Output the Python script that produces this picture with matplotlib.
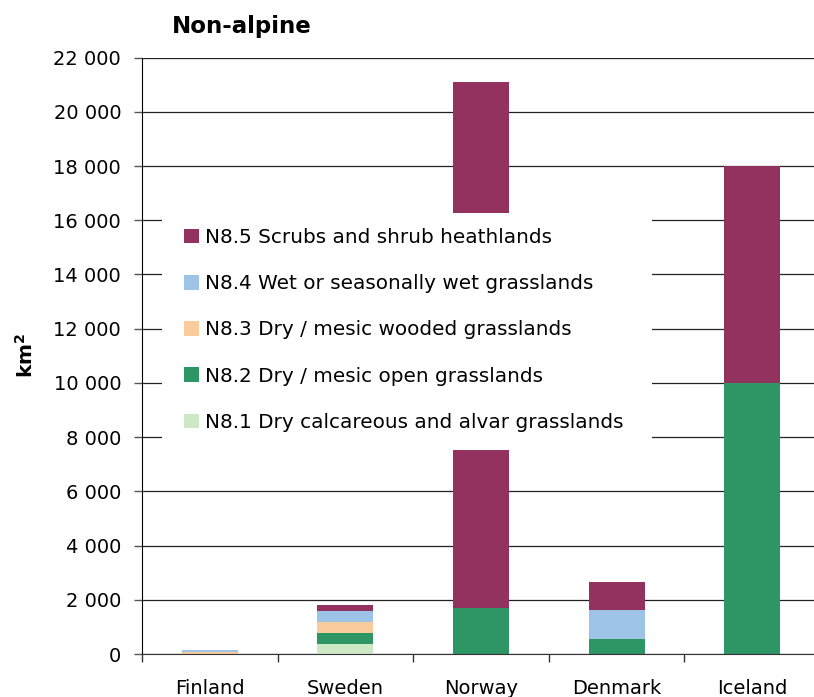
import matplotlib
matplotlib.use("Agg")
import matplotlib.pyplot as plt
from matplotlib.patches import Rectangle
from matplotlib.ticker import FixedLocator, FuncFormatter
import numpy as np

# Non-alpine grassland and heathland area per country (km2)
countries = ["Finland", "Sweden", "Norway", "Denmark", "Iceland"]
n81 = [0, 380, 0, 0, 0]
n82 = [0, 395, 1710, 550, 10000]
n83 = [80, 405, 0, 0, 0]
n84 = [60, 405, 0, 1070, 0]
n85 = [0, 220, 19400, 1035, 8000]

labels = ["N8.1 Dry calcareous and alvar grasslands",
          "N8.2 Dry / mesic open grasslands",
          "N8.3 Dry / mesic wooded grasslands",
          "N8.4 Wet or seasonally wet grasslands",
          "N8.5 Scrubs and shrub heathlands"]
colors = ["#CCE8C4", "#2E9665", "#FACB9B", "#9DC3E6", "#94325F"]

plt.rcParams["font.family"] = ["DejaVu Sans"]

fig = plt.figure(figsize=(8.14, 6.97), dpi=100)
ax = fig.add_axes([142 / 814, 1 - 654 / 697, 678 / 814, 596.4 / 697])

x = np.arange(len(countries))
bottom = np.zeros(len(countries))
handles = []
for vals, lab, col in zip([n81, n82, n83, n84, n85], labels, colors):
    b = ax.bar(x, vals, width=0.413, bottom=bottom, color=col, label=lab,
               zorder=2, linewidth=0)
    handles.append(b)
    bottom += np.array(vals)

ax.set_xlim(-0.5, 4.5)
ax.set_ylim(0, 22000)
ax.set_yticks(np.arange(0, 22001, 2000))
ax.yaxis.set_major_formatter(FuncFormatter(lambda v, p: f"{int(v):,}".replace(",", " ")))
ax.set_xticks(x)
ax.set_xticklabels(countries)
ax.xaxis.set_minor_locator(FixedLocator(np.arange(-0.5, 5, 1)))

ax.tick_params(axis="x", which="major", length=0, pad=18, labelsize=14)
ax.tick_params(axis="x", which="minor", length=5.5, width=1, color="#333333")
ax.tick_params(axis="y", length=6, width=1, pad=9, labelsize=14, color="#555555")

ax.set_axisbelow(True)
ax.yaxis.grid(True, color="#222222", linewidth=0.9)
for s in ["top", "right"]:
    ax.spines[s].set_visible(False)
ax.spines["left"].set_color("black")
ax.spines["bottom"].set_color("#333333")

# white legend background covering part of the plot area
ax.add_patch(Rectangle((0.0295, 0.342), 0.7225, 0.397, transform=ax.transAxes,
                       facecolor="white", edgecolor="none", zorder=4))

leg = ax.legend(handles[::-1], labels[::-1], loc="upper left",
                bbox_to_anchor=(184 / 814, 1 - 228 / 697), bbox_transform=fig.transFigure,
                frameon=False, fontsize=14.4, borderpad=0, borderaxespad=0,
                handlelength=0.75, handleheight=0.75, handletextpad=0.3,
                labelspacing=1.36)
leg.set_zorder(5)

fig.text(172 / 814, 1 - 33.3 / 697, "Non-alpine", fontsize=16.5, fontweight="bold",
         ha="left", va="baseline")
fig.text(26 / 814, 1 - 355 / 697, r"km$^{\mathbf{2}}$", fontsize=14.5, fontweight="bold",
         rotation=90, ha="center", va="center")

fig.savefig("out.png", dpi=100, facecolor="white")
